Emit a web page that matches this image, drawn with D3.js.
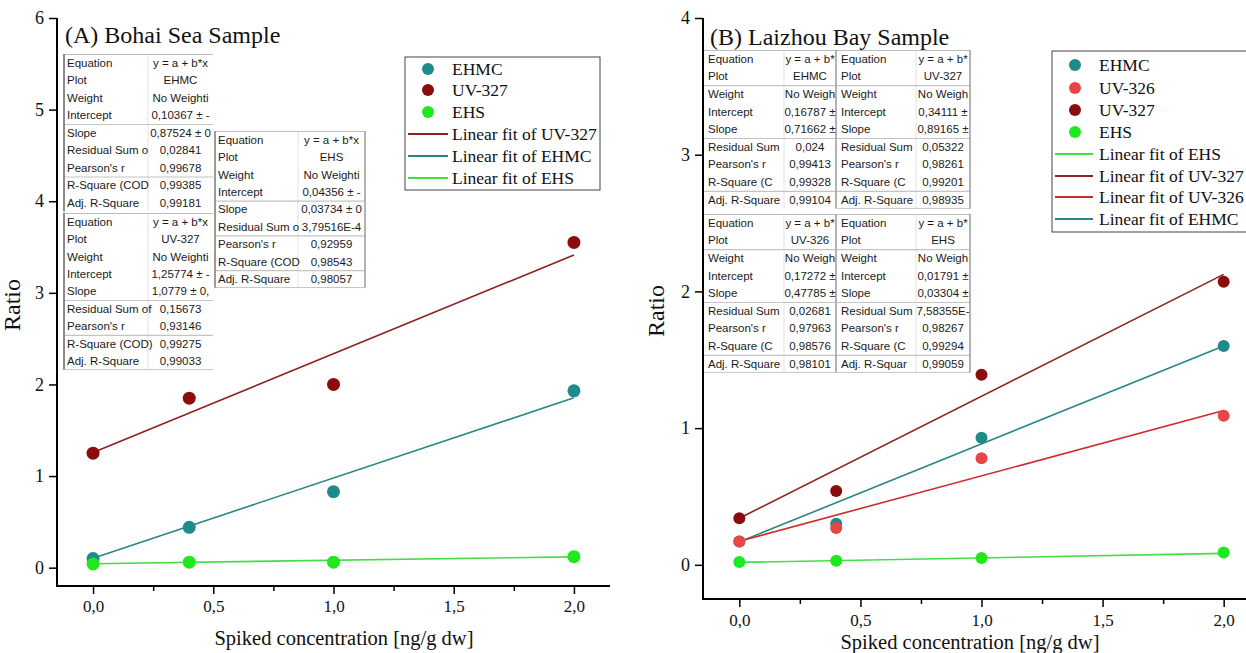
<!DOCTYPE html>
<html>
<head>
<meta charset="utf-8">
<script src="https://cdn.jsdelivr.net/npm/d3@7"></script>
<style>
  body { margin: 0; background: #fff; }
  svg { display: block; }
</style>
</head>
<body>
<svg id="chart" width="1246" height="653"></svg>
<script>
// Spiked concentration levels (ng/g dw)
const spiked = [0, 0.4, 1.0, 2.0];

// (A) Bohai Sea sample ratios
const bohaiEHMC  = [0.10, 0.44, 0.83, 1.93];
const bohaiUV327 = [1.25, 1.85, 2.00, 3.55];
const bohaiEHS   = [0.04, 0.06, 0.06, 0.12];

// (B) Laizhou Bay sample ratios
const laizhouEHMC  = [0.17, 0.30, 0.93, 1.60];
const laizhouUV326 = [0.17, 0.27, 0.78, 1.09];
const laizhouUV327 = [0.34, 0.54, 1.39, 2.07];
const laizhouEHS   = [0.02, 0.03, 0.05, 0.09];

// Linear fits [intercept, slope]
const fitBohaiEHMC    = [0.10367, 0.87524];
const fitBohaiUV327   = [1.25774, 1.0779];
const fitBohaiEHS     = [0.04356, 0.03734];
const fitLaizhouEHMC  = [0.16787, 0.71662];
const fitLaizhouUV327 = [0.34111, 0.89165];
const fitLaizhouUV326 = [0.17272, 0.47785];
const fitLaizhouEHS   = [0.01791, 0.03304];

// Axis ticks
const xMajorTicks = [0, 0.5, 1.0, 1.5, 2.0];
const xMinorTicks = [0.25, 0.75, 1.25, 1.75];
const yTicksA = [0, 1, 2, 3, 4, 5, 6];
const yTicksB = [0, 1, 2, 3, 4];

// Fit statistics tables
const statLabelsA  = ["Equation", "Plot", "Weight", "Intercept", "Slope", "Residual Sum o", "Pearson's r", "R-Square (COD", "Adj. R-Square"];
const statLabelsA3 = ["Equation", "Plot", "Weight", "Intercept", "Slope", "Residual Sum of", "Pearson's r", "R-Square (COD)", "Adj. R-Square"];
const statLabelsB  = ["Equation", "Plot", "Weight", "Intercept", "Slope", "Residual Sum", "Pearson's r", "R-Square (C", "Adj. R-Square"];
const statLabelsB4 = ["Equation", "Plot", "Weight", "Intercept", "Slope", "Residual Sum", "Pearson's r", "R-Square (C", "Adj. R-Squar"];

const comma = v => String(v).replace(".", ",");

const statsBohaiEHMC  = ["y = a + b*x", "EHMC", "No Weighti", comma(fitBohaiEHMC[0]) + " ± -", comma(fitBohaiEHMC[1]) + " ± 0", "0,02841", "0,99678", "0,99385", "0,99181"];
const statsBohaiEHS   = ["y = a + b*x", "EHS", "No Weighti", comma(fitBohaiEHS[0]) + " ± -", comma(fitBohaiEHS[1]) + " ± 0", "3,79516E-4", "0,92959", "0,98543", "0,98057"];
const statsBohaiUV327 = ["y = a + b*x", "UV-327", "No Weighti", comma(fitBohaiUV327[0]) + " ± -", comma(fitBohaiUV327[1]) + " ± 0,", "0,15673", "0,93146", "0,99275", "0,99033"];
const statsLaizhouEHMC  = ["y = a + b*", "EHMC", "No Weigh", comma(fitLaizhouEHMC[0]) + " ±", comma(fitLaizhouEHMC[1]) + " ±", "0,024", "0,99413", "0,99328", "0,99104"];
const statsLaizhouUV327 = ["y = a + b*", "UV-327", "No Weigh", comma(fitLaizhouUV327[0]) + " ±", comma(fitLaizhouUV327[1]) + " ±", "0,05322", "0,98261", "0,99201", "0,98935"];
const statsLaizhouUV326 = ["y = a + b*", "UV-326", "No Weigh", comma(fitLaizhouUV326[0]) + " ±", comma(fitLaizhouUV326[1]) + " ±", "0,02681", "0,97963", "0,98576", "0,98101"];
const statsLaizhouEHS   = ["y = a + b*", "EHS", "No Weigh", comma(fitLaizhouEHS[0]) + " ±", comma(fitLaizhouEHS[1]) + " ±", "7,58355E-", "0,98267", "0,99294", "0,99059"];

// Series colours
const colors = {
  EHMC:  "#1e8a8a",
  UV327: "#8b0c0c",
  UV326: "#e84646",
  EHS:   "#1ee81e"
};
const fitColors = {
  EHMC:  "#2a8585",
  UV327: "#8e2222",
  UV326: "#d02a2a",
  EHS:   "#44dd44"
};

const svg = d3.select("#chart");
const serif = "'Liberation Serif', 'Times New Roman', serif";
const sans = "'Liberation Sans', Arial, sans-serif";

function drawTable(g, x, y, colW, rowH, labels, values, seps, opt) {
  const w = colW[0] + colW[1];
  const h = rowH * labels.length;
  const t = g.append("g");
  t.append("rect").attr("x", x).attr("y", y).attr("width", w).attr("height", h)
    .attr("fill", "#fff");
  // column divider
  t.append("line").attr("x1", x + colW[0]).attr("x2", x + colW[0])
    .attr("y1", y).attr("y2", y + h).attr("stroke", "#e2e2e2").attr("stroke-width", 1);
  // top border
  t.append("line").attr("x1", x).attr("x2", x + w).attr("y1", y + 0.5).attr("y2", y + 0.5)
    .attr("stroke", "#bdbdbd").attr("stroke-width", 1);
  // row separators
  seps.forEach(i => {
    t.append("line").attr("x1", x).attr("x2", x + w)
      .attr("y1", y + i * rowH + 0.5).attr("y2", y + i * rowH + 0.5)
      .attr("stroke", "#c4c4c4").attr("stroke-width", 1.2);
  });
  if (opt.bottom) {
    t.append("line").attr("x1", x).attr("x2", x + w).attr("y1", y + h).attr("y2", y + h)
      .attr("stroke", "#c4c4c4").attr("stroke-width", 1);
  }
  if (opt.left) {
    t.append("line").attr("x1", x + 1).attr("x2", x + 1).attr("y1", y).attr("y2", y + h)
      .attr("stroke", opt.left).attr("stroke-width", 2);
  }
  if (opt.right) {
    t.append("line").attr("x1", x + w).attr("x2", x + w).attr("y1", y).attr("y2", y + h)
      .attr("stroke", opt.right).attr("stroke-width", 1.5);
  }
  labels.forEach((lab, i) => {
    t.append("text").attr("x", x + 4).attr("y", y + (i + 0.5) * rowH)
      .attr("dy", "0.35em").attr("font-family", sans).attr("font-size", opt.fs)
      .attr("fill", "#1a1a1a").text(lab);
    t.append("text").attr("x", x + colW[0] + colW[1] / 2).attr("y", y + (i + 0.5) * rowH)
      .attr("dy", "0.35em").attr("text-anchor", "middle").attr("font-family", sans)
      .attr("font-size", opt.fs).attr("fill", "#1a1a1a").text(values[i]);
  });
}

function drawAxes(g, x, y, yTicks, xLabelPad, xTitleY, xTitleX, ratioX, ratioY) {
  const xr = x.range(), yr = y.range();
  // x axis
  const xa = g.append("g").attr("transform", `translate(0,${yr[0]})`)
    .call(d3.axisBottom(x).tickValues(xMajorTicks).tickSize(8).tickPadding(xLabelPad)
      .tickFormat(d => d3.format(".1f")(d).replace(".", ",")));
  xa.select(".domain").remove();
  xa.selectAll(".tick line").attr("stroke", "#000").attr("stroke-width", 1.5);
  xa.selectAll(".tick text").attr("font-family", serif).attr("font-size", 17).attr("fill", "#111");
  const xm = g.append("g").attr("transform", `translate(0,${yr[0]})`)
    .call(d3.axisBottom(x).tickValues(xMinorTicks).tickSize(5).tickFormat(""));
  xm.select(".domain").remove();
  xm.selectAll(".tick line").attr("stroke", "#000").attr("stroke-width", 1.5);
  // y axis
  const ya = g.append("g").attr("transform", `translate(${xr[0]},0)`)
    .call(d3.axisLeft(y).tickValues(yTicks).tickSize(8).tickPadding(5).tickFormat(d3.format("d")));
  ya.select(".domain").remove();
  ya.selectAll(".tick line").attr("stroke", "#000").attr("stroke-width", 1.5);
  ya.selectAll(".tick text").attr("font-family", serif).attr("font-size", 18).attr("fill", "#111");
  // frame lines (left and bottom)
  g.append("path")
    .attr("d", `M${xr[0]},${yr[1]}V${yr[0]}H${xr[1]}`)
    .attr("fill", "none").attr("stroke", "#000").attr("stroke-width", 2);
  g.append("text").attr("x", xTitleX).attr("y", xTitleY).attr("text-anchor", "middle")
    .attr("font-family", serif).attr("font-size", 20.5).attr("fill", "#111")
    .text("Spiked concentration [ng/g dw]");
  g.append("text").attr("transform", `translate(${ratioX},${ratioY}) rotate(-90)`)
    .attr("text-anchor", "middle").attr("font-family", serif).attr("font-size", 24)
    .attr("fill", "#111").text("Ratio");
}

function drawFit(g, x, y, fit, color) {
  const line = d3.line().x(d => x(d)).y(d => y(fit[0] + fit[1] * d));
  g.append("path").datum([0, 2]).attr("d", line)
    .attr("fill", "none").attr("stroke", color).attr("stroke-width", 1.6);
}

function drawPoints(g, x, y, vals, color, r) {
  g.selectAll(null).data(spiked.map((s, i) => [s, vals[i]])).enter()
    .append("circle").attr("cx", d => x(d[0])).attr("cy", d => y(d[1]))
    .attr("r", r).attr("fill", color);
}

function drawLegend(g, bx, by, bw, bh, entries, mx, lx0, lx1, tx) {
  g.append("rect").attr("x", bx).attr("y", by).attr("width", bw).attr("height", bh)
    .attr("fill", "#fff").attr("stroke", "#444").attr("stroke-width", 1);
  entries.forEach(e => {
    if (e.type === "dot") {
      g.append("circle").attr("cx", mx).attr("cy", e.y).attr("r", 6).attr("fill", e.color);
    } else {
      g.append("line").attr("x1", lx0).attr("x2", lx1).attr("y1", e.y).attr("y2", e.y)
        .attr("stroke", e.color).attr("stroke-width", 2);
    }
    g.append("text").attr("x", tx).attr("y", e.y).attr("dy", "0.35em")
      .attr("font-family", serif).attr("font-size", 17.5).attr("fill", "#111").text(e.label);
  });
}

// ---------- Panel A ----------
const xA = d3.scaleLinear().domain([-0.15, 2.15]).range([57, 610]);
const yA = d3.scaleLinear().domain([-0.2, 6]).range([586, 18]);
const gA = svg.append("g");

drawAxes(gA, xA, yA, yTicksA, 6, 645, 344, 20, 305);

gA.append("text").attr("x", 65).attr("y", 43).attr("font-family", serif)
  .attr("font-size", 24).attr("fill", "#111").text("(A) Bohai Sea Sample");

drawTable(gA, 63, 54, [85, 65], 17.5, statLabelsA, statsBohaiEHMC, [4, 7], { fs: 11.5, left: "#8a8a8a" });
drawTable(gA, 214, 131, [84, 67], 17.4, statLabelsA, statsBohaiEHS, [4, 6, 8], { fs: 11.5, left: "#9a9a9a", right: "#9a9a9a", bottom: true });
drawTable(gA, 63, 213, [85, 65], 17.4, statLabelsA3, statsBohaiUV327, [5, 7], { fs: 11.5, left: "#8a8a8a", bottom: true });

drawFit(gA, xA, yA, fitBohaiUV327, fitColors.UV327);
drawFit(gA, xA, yA, fitBohaiEHMC, fitColors.EHMC);
drawFit(gA, xA, yA, fitBohaiEHS, fitColors.EHS);
drawPoints(gA, xA, yA, bohaiEHMC, colors.EHMC, 6.5);
drawPoints(gA, xA, yA, bohaiUV327, colors.UV327, 6.5);
drawPoints(gA, xA, yA, bohaiEHS, colors.EHS, 6.5);

drawLegend(gA, 405, 57, 195, 133, [
  { type: "dot", label: "EHMC", color: colors.EHMC, y: 69 },
  { type: "dot", label: "UV-327", color: colors.UV327, y: 90 },
  { type: "dot", label: "EHS", color: colors.EHS, y: 112 },
  { type: "line", label: "Linear fit of UV-327", color: fitColors.UV327, y: 134 },
  { type: "line", label: "Linear fit of EHMC", color: fitColors.EHMC, y: 156 },
  { type: "line", label: "Linear fit of EHS", color: fitColors.EHS, y: 178 }
], 428, 408, 448, 452);

// ---------- Panel B ----------
const xB = d3.scaleLinear().domain([-0.15, 2.15]).range([703, 1260]);
const yB = d3.scaleLinear().domain([-0.25, 4]).range([599, 18]);
const gB = svg.append("g");

drawAxes(gB, xB, yB, yTicksB, 7.4, 648.5, 970, 664, 311);

gB.append("text").attr("x", 710).attr("y", 45).attr("font-family", serif)
  .attr("font-size", 24).attr("fill", "#111").text("(B) Laizhou Bay Sample");

drawTable(gB, 704, 50, [80, 52], 17.6, statLabelsB, statsLaizhouEHMC, [2, 5, 8], { fs: 11.5, right: "#9a9a9a" });
drawTable(gB, 837, 50, [79, 54], 17.6, statLabelsB, statsLaizhouUV327, [2, 5, 8], { fs: 11.5, right: "#9a9a9a", bottom: true });
drawTable(gB, 704, 214, [80, 52], 17.6, statLabelsB, statsLaizhouUV326, [2, 5, 8], { fs: 11.5, right: "#9a9a9a", bottom: true });
drawTable(gB, 837, 214, [79, 54], 17.6, statLabelsB4, statsLaizhouEHS, [2, 5, 8], { fs: 11.5, right: "#9a9a9a", bottom: true });

drawFit(gB, xB, yB, fitLaizhouUV327, fitColors.UV327);
drawFit(gB, xB, yB, fitLaizhouEHMC, fitColors.EHMC);
drawFit(gB, xB, yB, fitLaizhouUV326, fitColors.UV326);
drawFit(gB, xB, yB, fitLaizhouEHS, fitColors.EHS);
drawPoints(gB, xB, yB, laizhouEHMC, colors.EHMC, 6);
drawPoints(gB, xB, yB, laizhouUV326, colors.UV326, 6);
drawPoints(gB, xB, yB, laizhouUV327, colors.UV327, 6);
drawPoints(gB, xB, yB, laizhouEHS, colors.EHS, 6);

drawLegend(gB, 1052, 51, 200, 181, [
  { type: "dot", label: "EHMC", color: colors.EHMC, y: 65 },
  { type: "dot", label: "UV-326", color: colors.UV326, y: 88 },
  { type: "dot", label: "UV-327", color: colors.UV327, y: 110 },
  { type: "dot", label: "EHS", color: colors.EHS, y: 132 },
  { type: "line", label: "Linear fit of EHS", color: fitColors.EHS, y: 154 },
  { type: "line", label: "Linear fit of UV-327", color: fitColors.UV327, y: 176 },
  { type: "line", label: "Linear fit of UV-326", color: fitColors.UV326, y: 197 },
  { type: "line", label: "Linear fit of EHMC", color: fitColors.EHMC, y: 219 }
], 1075, 1055, 1093, 1099);
</script>
</body>
</html>
